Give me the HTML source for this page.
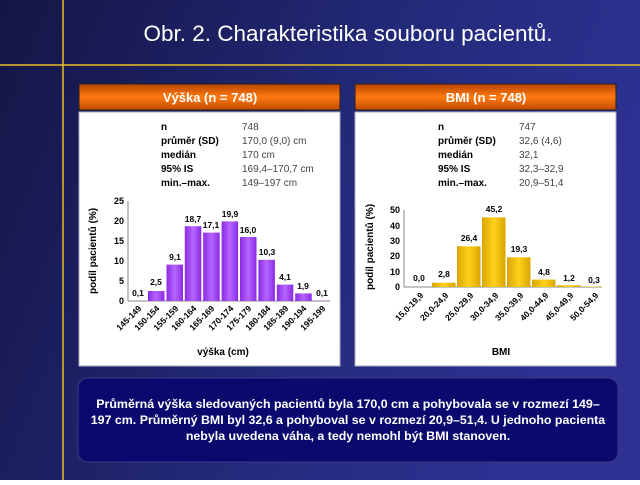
<!DOCTYPE html>
<html><head><meta charset="utf-8"><style>
body{margin:0;width:640px;height:480px;overflow:hidden;font-family:"Liberation Sans",sans-serif}
</style></head><body>
<svg width="640" height="480" xmlns="http://www.w3.org/2000/svg" font-family="Liberation Sans, sans-serif">
<defs>
<linearGradient id="bg" x1="0" y1="0" x2="1" y2="0.3">
<stop offset="0" stop-color="#151545"/><stop offset="0.6" stop-color="#232a7a"/><stop offset="1" stop-color="#2e3192"/></linearGradient>
<linearGradient id="hd" x1="0" y1="0" x2="0" y2="1">
<stop offset="0" stop-color="#b84400"/><stop offset="0.5" stop-color="#ff7a10"/><stop offset="1" stop-color="#c04a00"/></linearGradient>
<linearGradient id="pu" x1="0" y1="0" x2="1" y2="0">
<stop offset="0" stop-color="#8a2be2"/><stop offset="0.5" stop-color="#b566ff"/><stop offset="1" stop-color="#8a2be2"/></linearGradient>
<linearGradient id="ye" x1="0" y1="0" x2="1" y2="0">
<stop offset="0" stop-color="#d9a400"/><stop offset="0.5" stop-color="#ffd21a"/><stop offset="1" stop-color="#d9a400"/></linearGradient>
</defs>
<rect width="640" height="480" fill="url(#bg)"/>
<line x1="63" y1="0" x2="63" y2="480" stroke="#e8c020" stroke-width="1.5"/>
<line x1="0" y1="65" x2="640" y2="65" stroke="#e8c020" stroke-width="1.5"/>
<text x="348" y="41" fill="#fff" font-size="22.5" text-anchor="middle">Obr. 2. Charakteristika souboru pacientů.</text>

<!-- left panel -->
<rect x="79" y="84" width="261" height="26" fill="url(#hd)" stroke="#222" stroke-width="1"/>
<text x="210" y="102" fill="#fff" font-size="13" font-weight="bold" text-anchor="middle">Výška (n = 748)</text>
<rect x="79" y="112" width="261" height="254" fill="#fff" stroke="#aab" stroke-width="1"/>
<g font-size="10" fill="#000">
<g font-weight="bold"><text x="161" y="130">n</text><text x="161" y="144">průměr (SD)</text><text x="161" y="158">medián</text><text x="161" y="172">95% IS</text><text x="161" y="186">min.–max.</text></g>
<g fill="#444"><text x="242" y="130">748</text><text x="242" y="144">170,0 (9,0) cm</text><text x="242" y="158">170 cm</text><text x="242" y="172">169,4–170,7 cm</text><text x="242" y="186">149–197 cm</text></g>
</g>
<g font-size="9" font-weight="bold" fill="#000">
<line x1="128" y1="201" x2="128" y2="301" stroke="#888"/>
<line x1="128" y1="301" x2="330" y2="301" stroke="#888"/>
<text x="124" y="204" text-anchor="end">25</text><text x="124" y="224" text-anchor="end">20</text><text x="124" y="244" text-anchor="end">15</text><text x="124" y="264" text-anchor="end">10</text><text x="124" y="284" text-anchor="end">5</text><text x="124" y="304" text-anchor="end">0</text>
<text transform="translate(96 251) rotate(-90)" text-anchor="middle" font-size="10">podíl pacientů (%)</text>
<g fill="url(#pu)">
<rect x="148" y="291" width="16.5" height="10"/><rect x="166.5" y="264.6" width="16.5" height="36.4"/><rect x="184.8" y="226.2" width="16.5" height="74.8"/><rect x="203.2" y="232.6" width="16.5" height="68.4"/><rect x="221.6" y="221.4" width="16.5" height="79.6"/><rect x="240" y="237" width="16.5" height="64"/><rect x="258.4" y="259.8" width="16.5" height="41.2"/><rect x="276.8" y="284.6" width="16.5" height="16.4"/><rect x="295.2" y="293.4" width="16.5" height="7.6"/><rect x="313.6" y="300.6" width="16.5" height="0.4"/>
</g>
<g text-anchor="middle" font-size="8.5">
<text x="138" y="296">0,1</text><text x="156" y="285">2,5</text><text x="175" y="260">9,1</text><text x="193" y="222">18,7</text><text x="211" y="228">17,1</text><text x="230" y="217">19,9</text><text x="248" y="233">16,0</text><text x="267" y="255">10,3</text><text x="285" y="280">4,1</text><text x="303" y="289">1,9</text><text x="322" y="296">0,1</text>
</g>
<g font-size="8.5" text-anchor="end">
<text transform="translate(142 309) rotate(-45)">145-149</text><text transform="translate(160 309) rotate(-45)">150-154</text><text transform="translate(179 309) rotate(-45)">155-159</text><text transform="translate(197 309) rotate(-45)">160-164</text><text transform="translate(215 309) rotate(-45)">165-169</text><text transform="translate(234 309) rotate(-45)">170-174</text><text transform="translate(252 309) rotate(-45)">175-179</text><text transform="translate(271 309) rotate(-45)">180-184</text><text transform="translate(289 309) rotate(-45)">185-189</text><text transform="translate(307 309) rotate(-45)">190-194</text><text transform="translate(326 309) rotate(-45)">195-199</text>
</g>
<text x="223" y="355" text-anchor="middle" font-size="10">výška (cm)</text>
</g>

<!-- right panel -->
<rect x="355" y="84" width="261" height="26" fill="url(#hd)" stroke="#222" stroke-width="1"/>
<text x="486" y="102" fill="#fff" font-size="13" font-weight="bold" text-anchor="middle">BMI (n = 748)</text>
<rect x="355" y="112" width="261" height="254" fill="#fff" stroke="#aab" stroke-width="1"/>
<g font-size="10" fill="#000">
<g font-weight="bold"><text x="438" y="130">n</text><text x="438" y="144">průměr (SD)</text><text x="438" y="158">medián</text><text x="438" y="172">95% IS</text><text x="438" y="186">min.–max.</text></g>
<g fill="#444"><text x="519" y="130">747</text><text x="519" y="144">32,6 (4,6)</text><text x="519" y="158">32,1</text><text x="519" y="172">32,3–32,9</text><text x="519" y="186">20,9–51,4</text></g>
</g>
<g font-size="9" font-weight="bold" fill="#000">
<line x1="404" y1="210" x2="404" y2="287" stroke="#888"/>
<line x1="404" y1="287" x2="602" y2="287" stroke="#888"/>
<text x="400" y="213" text-anchor="end">50</text><text x="400" y="229" text-anchor="end">40</text><text x="400" y="244" text-anchor="end">30</text><text x="400" y="259" text-anchor="end">20</text><text x="400" y="275" text-anchor="end">10</text><text x="400" y="290" text-anchor="end">0</text>
<text transform="translate(373 247) rotate(-90)" text-anchor="middle" font-size="10">podíl pacientů (%)</text>
<g fill="url(#ye)">
<rect x="432" y="282.7" width="23.5" height="4.3"/><rect x="457" y="246.3" width="23.5" height="40.7"/><rect x="482" y="217.4" width="23.5" height="69.6"/><rect x="507" y="257.3" width="23.5" height="29.7"/><rect x="532" y="279.6" width="23.5" height="7.4"/><rect x="557" y="285.2" width="23.5" height="1.8"/><rect x="582" y="286.5" width="20" height="0.5"/>
</g>
<g text-anchor="middle" font-size="8.5">
<text x="419" y="281">0,0</text><text x="444" y="277">2,8</text><text x="469" y="241">26,4</text><text x="494" y="212">45,2</text><text x="519" y="252">19,3</text><text x="544" y="275">4,8</text><text x="569" y="281">1,2</text><text x="594" y="283">0,3</text>
</g>
<g font-size="8.5" text-anchor="end">
<text transform="translate(424 296) rotate(-45)">15,0-19,9</text><text transform="translate(449 296) rotate(-45)">20,0-24,9</text><text transform="translate(474 296) rotate(-45)">25,0-29,9</text><text transform="translate(499 296) rotate(-45)">30,0-34,9</text><text transform="translate(524 296) rotate(-45)">35,0-39,9</text><text transform="translate(549 296) rotate(-45)">40,0-44,9</text><text transform="translate(574 296) rotate(-45)">45,0-49,9</text><text transform="translate(599 296) rotate(-45)">50,0-54,9</text>
</g>
<text x="501" y="355" text-anchor="middle" font-size="10">BMI</text>
</g>

<!-- bottom box -->
<rect x="78" y="378" width="540" height="84" rx="10" fill="#0a0a6e" stroke="#3a3a8a"/>
<g fill="#fff" font-size="12.4" font-weight="bold" text-anchor="middle">
<text x="348" y="408">Průměrná výška sledovaných pacientů byla 170,0 cm a pohybovala se v rozmezí 149–</text>
<text x="348" y="424">197 cm. Průměrný BMI byl 32,6 a pohyboval se v rozmezí 20,9–51,4. U jednoho pacienta</text>
<text x="348" y="440">nebyla uvedena váha, a tedy nemohl být BMI stanoven.</text>
</g>
</svg>
</body></html>
